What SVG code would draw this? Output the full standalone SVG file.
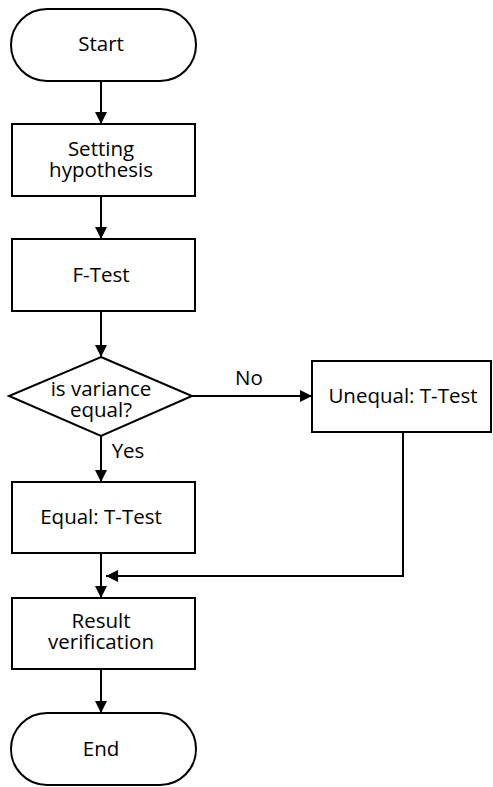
<svg xmlns="http://www.w3.org/2000/svg" width="493" height="787" viewBox="0 0 493 787">
<style>
.s{fill:#fff;stroke:#000;stroke-width:2}
.c{fill:none;stroke:#000;stroke-width:2}
text{font-family:"Open Sans","Noto Sans","DejaVu Sans",sans-serif;font-size:20.5px;fill:#000;text-anchor:middle}
</style>
<defs>
<marker id="ah" markerWidth="12" markerHeight="12" refX="12" refY="6" orient="auto" markerUnits="userSpaceOnUse">
<path d="M0,0 L12,6 L0,12 Z" fill="#000"/>
</marker>
</defs>
<g id="connectors">
<path class="c" d="M101,81 V124" marker-end="url(#ah)"/>
<path class="c" d="M101,196 V239" marker-end="url(#ah)"/>
<path class="c" d="M101,311 V357" marker-end="url(#ah)"/>
<path class="c" d="M192,396 H312" marker-end="url(#ah)"/>
<path class="c" d="M101,436 V482" marker-end="url(#ah)"/>
<path class="c" d="M101,553 V598" marker-end="url(#ah)"/>
<path class="c" d="M403,432 V576 H106" marker-end="url(#ah)"/>
<path class="c" d="M101,669 V713" marker-end="url(#ah)"/>
<text x="249" y="385">No</text>
<text x="128" y="458">Yes</text>
</g>
<g id="start">
<rect class="s" x="11" y="9" width="185" height="72" rx="36"/>
<text x="101" y="51">Start</text>
</g>
<g id="setting">
<rect class="s" x="12" y="124" width="183" height="72"/>
<text x="101" y="156">Setting</text>
<text x="101" y="177">hypothesis</text>
</g>
<g id="ftest">
<rect class="s" x="12" y="239" width="183" height="72"/>
<text x="101" y="282">F-Test</text>
</g>
<g id="decision">
<path class="s" d="M101,357 L192,396 L101,436 L9,396 Z"/>
<text x="101" y="396">is variance</text>
<text x="101" y="417">equal?</text>
</g>
<g id="unequal">
<rect class="s" x="312" y="361" width="179" height="71"/>
<text x="403" y="403">Unequal: T-Test</text>
</g>
<g id="equal">
<rect class="s" x="12" y="482" width="183" height="71"/>
<text x="101" y="524">Equal: T-Test</text>
</g>
<g id="result">
<rect class="s" x="12" y="598" width="183" height="71"/>
<text x="101" y="628">Result</text>
<text x="101" y="649">verification</text>
</g>
<g id="end">
<rect class="s" x="11" y="713" width="185" height="72" rx="36"/>
<text x="101" y="756">End</text>
</g>
</svg>
